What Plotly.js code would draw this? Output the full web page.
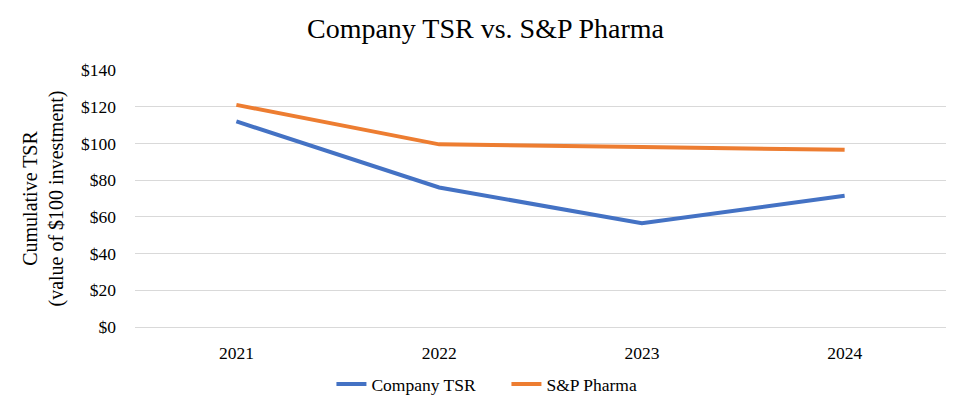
<!DOCTYPE html>
<html>
<head>
<meta charset="utf-8">
<script src="https://cdn.plot.ly/plotly-3.0.1.min.js"></script>
<style>html,body{margin:0;padding:0;background:#fff;}#chart{width:971px;height:409px;}</style>
</head>
<body>
<div id="chart"></div>
<script>
const years = ["2021", "2022", "2023", "2024"];
const companyTSR = [112, 76, 56.5, 71.5];
const spPharma = [121, 99.5, 98, 96.5];
const yTickVals = [0, 20, 40, 60, 80, 100, 120, 140];
const yTickText = ["$0", "$20", "$40", "$60", "$80", "$100", "$120", "$140"];

const font = "Liberation Serif, Times New Roman, serif";
const traces = [
  {x: years, y: companyTSR, type: "scatter", mode: "lines", name: "Company TSR",
   line: {color: "#4472C4", width: 4}},
  {x: years, y: spPharma, type: "scatter", mode: "lines", name: "S&P Pharma",
   line: {color: "#ED7D31", width: 4}}
];
const layout = {
  width: 971, height: 409,
  margin: {l: 135, r: 25, t: 70, b: 82},
  paper_bgcolor: "#fff", plot_bgcolor: "#fff",
  font: {family: font, color: "#000", size: 17.5},
  title: {text: "Company TSR vs. S&P Pharma", font: {family: font, size: 28, color: "#000"},
          x: 0.5, xanchor: "center", y: 0.93, yanchor: "middle"},
  xaxis: {type: "category", range: [-0.5, 3.5], showgrid: false, zeroline: false, automargin: false,
          showline: false, ticks: "", ticklabelstandoff: 13, tickfont: {size: 17.5}},
  yaxis: {range: [0, 140], tickvals: yTickVals, ticktext: yTickText, showgrid: true, automargin: false,
          gridcolor: "#d9d9d9", gridwidth: 1, zeroline: true, zerolinecolor: "#d9d9d9", zerolinewidth: 1,
          showline: false, ticks: "", ticklabelstandoff: 18, tickfont: {size: 17.5},
          title: {text: "Cumulative TSR<br>(value of $100 investment)", font: {size: 20}, standoff: 12}},
  showlegend: true,
  legend: {orientation: "h", x: 0.458, xanchor: "center", yref: "container", y: 0.061, yanchor: "middle",
           font: {size: 17.5}, itemwidth: 30, entrywidth: 130, traceorder: "normal"}
};
Plotly.newPlot("chart", traces, layout, {displayModeBar: false});
</script>
</body>
</html>
